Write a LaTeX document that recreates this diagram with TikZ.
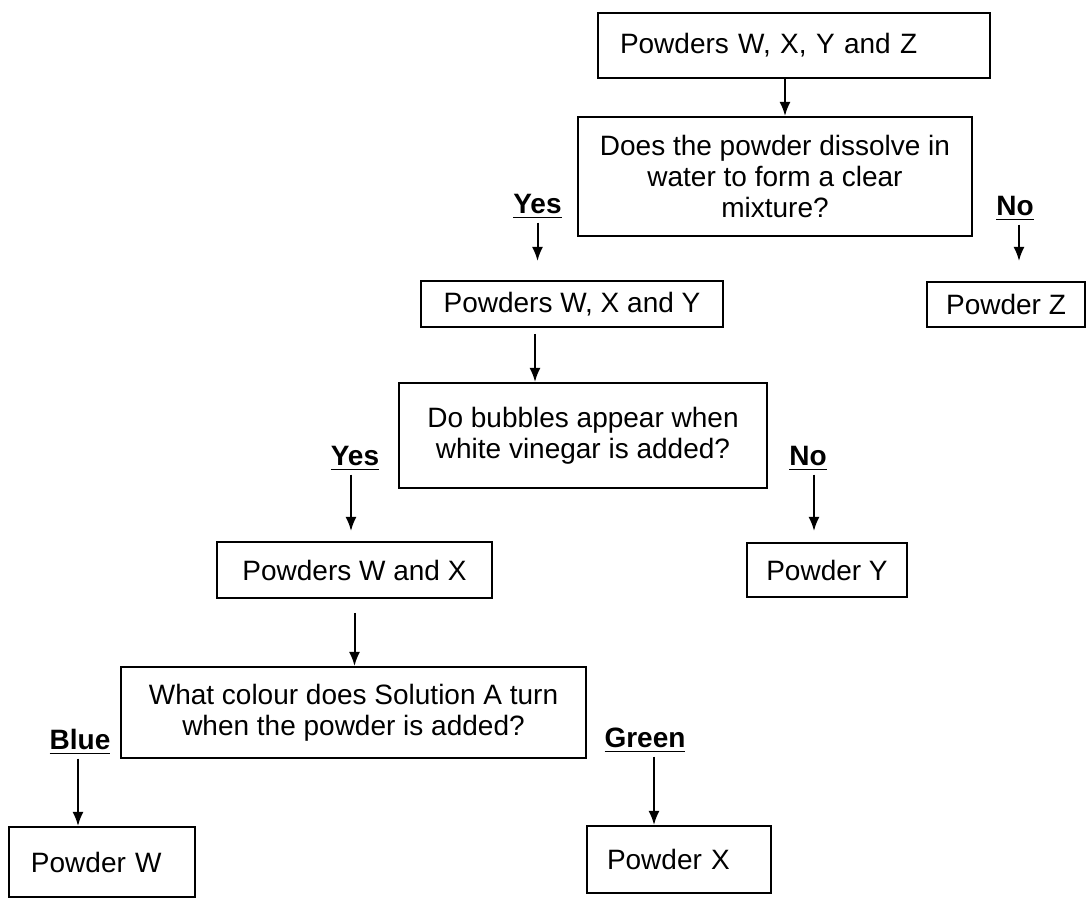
\documentclass[tikz,border=0pt]{standalone}
\usepackage{fontspec}
\setmainfont{Liberation Sans}
\usetikzlibrary{arrows.meta}

\begin{document}
\begin{tikzpicture}
    [
    x=0.5pt, y=-0.5pt,
    font=\fontsize{14}{15.5}\selectfont,
    box/.style={draw, line width=1pt, inner sep=0pt, align=center},
    ans/.style={font=\fontsize{14}{15.5}\selectfont\bfseries, inner sep=2pt, anchor=base},
    arr/.style={-{Latex[length=7pt,width=5.5pt]}, line width=1pt},
    ]
    \useasboundingbox (0,0) rectangle (1089,898);

    \node (wxyz) at (794,45.5) [box, minimum height=32.5pt, text width=174pt, inner xsep=11pt, align=left] {Powders W, X, Y and Z};
    \node (dissolve) at (775,176.5) [box, minimum width=197pt, minimum height=59.5pt] {Does the powder dissolve in\\water to form a clear\\mixture?};
    \node (wxy) at (572,304) [box, minimum width=151pt, minimum height=23pt] {Powders W, X and Y};
    \node (powz) at (1006,304.5) [box, minimum width=79pt, minimum height=22.5pt] {Powder Z};
    \node (bubbles) at (583,435.5) [box, minimum width=184pt, minimum height=52.5pt] {Do bubbles appear when\\white vinegar is added?};
    \node (wx) at (354.5,570) [box, minimum width=137.5pt, minimum height=28pt] {Powders W and X};
    \node (powy) at (827,570) [box, minimum width=80pt, minimum height=27pt] {Powder Y};
    \node (colour) at (353.5,712.5) [box, minimum width=232.5pt, minimum height=45.5pt] {What colour does Solution A turn\\when the powder is added?};
    \node (poww) at (102,862) [box, minimum height=35pt, text width=71pt, inner xsep=11pt, align=left] {Powder W};
    \node (powx) at (679,859.5) [box, minimum height=33.5pt, text width=72pt, inner xsep=10pt, align=left] {Powder X};

    \node (yes1) at (537.5,214) [ans] {\underline{Yes}};
    \node (no1) at (1015,216) [ans] {\underline{No}};
    \node (yes2) at (355,466) [ans] {\underline{Yes}};
    \node (no2) at (808,466) [ans] {\underline{No}};
    \node (blue) at (80,750) [ans] {\underline{Blue}};
    \node (green) at (645,748) [ans] {\underline{Green}};

    \draw [arr] ([xshift=-4.5pt]wxyz.south) -- ([xshift=-4.5pt]wxyz.south |- dissolve.north);
    \draw [arr, shorten >=9.5pt] (yes1.south) -- (yes1.south |- wxy.north);
    \draw [arr, shorten >=10pt] ([xshift=2pt]no1.south) -- ([xshift=2pt]no1.south |- powz.north);
    \draw [arr, shorten <=3pt] ([xshift=-18.5pt]wxy.south) -- ([xshift=-18.5pt]wxy.south |- bubbles.north);
    \draw [arr, shorten >=5pt] ([xshift=-2pt]yes2.south) -- ([xshift=-2pt]yes2.south |- wx.north);
    \draw [arr, shorten >=5.5pt] ([xshift=3pt]no2.south) -- ([xshift=3pt]no2.south |- powy.north);
    \draw [arr, shorten <=7pt] (wx.south) -- (wx.south |- colour.north);
    \draw [arr] ([xshift=-1pt]blue.south) -- ([xshift=-1pt]blue.south |- poww.north);
    \draw [arr] ([xshift=4.5pt]green.south) -- ([xshift=4.5pt]green.south |- powx.north);
\end{tikzpicture}
\end{document}
